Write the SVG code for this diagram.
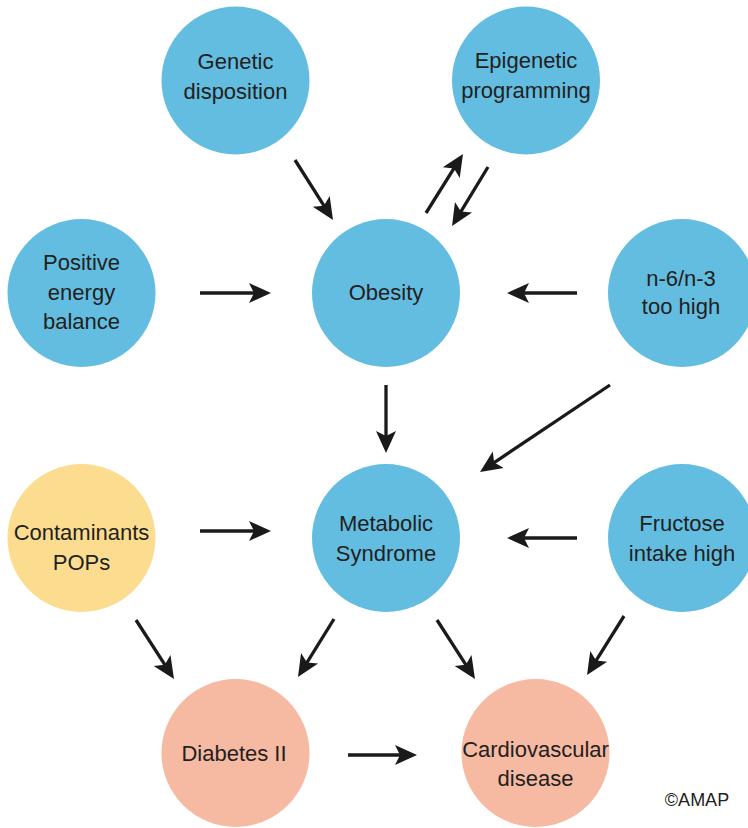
<svg xmlns="http://www.w3.org/2000/svg" width="748" height="828" viewBox="0 0 748 828">
<style>
.blue{fill:#62BDE0}
.yellow{fill:#FCDD8F}
.salmon{fill:#F6B9A2}
text{font-family:"Liberation Sans",Arial,sans-serif;font-size:22px;fill:#231F20;text-anchor:middle}
.conn line{stroke:#1a1a1a;stroke-width:3.3;marker-end:url(#ah)}
</style>
<defs>
<marker id="ah" markerUnits="userSpaceOnUse" viewBox="0 -11 23 22" refX="10" refY="0" markerWidth="23" markerHeight="22" orient="auto">
<path d="M0,-10 L22,0 L0,10 L5,0 Z" fill="#1a1a1a"/>
</marker>
</defs>
<rect width="748" height="828" fill="#fff"/>
<g id="genetic"><circle class="blue" cx="235.5" cy="80.5" r="74"/><text x="235.5" y="69">Genetic</text><text x="235.5" y="99">disposition</text></g>
<g id="epigenetic"><circle class="blue" cx="526" cy="80.5" r="74"/><text x="526" y="68">Epigenetic</text><text x="526" y="98">programming</text></g>
<g id="positive"><circle class="blue" cx="81.5" cy="293" r="74"/><text x="81.5" y="270">Positive</text><text x="81.5" y="299.5">energy</text><text x="81.5" y="329">balance</text></g>
<g id="obesity"><circle class="blue" cx="386" cy="293" r="74"/><text x="386" y="300">Obesity</text></g>
<g id="n6n3"><circle class="blue" cx="682" cy="293" r="74"/><text x="681" y="286">n-6/n-3</text><text x="681" y="314">too high</text></g>
<g id="contaminants"><circle class="yellow" cx="81.5" cy="538" r="74"/><text x="81.5" y="540">Contaminants</text><text x="81.5" y="570">POPs</text></g>
<g id="metabolic"><circle class="blue" cx="386" cy="538" r="74"/><text x="386" y="531">Metabolic</text><text x="386" y="561">Syndrome</text></g>
<g id="fructose"><circle class="blue" cx="682" cy="538" r="74"/><text x="682" y="531">Fructose</text><text x="682" y="561">intake high</text></g>
<g id="diabetes"><circle class="salmon" cx="235.5" cy="753" r="74"/><text x="234" y="761">Diabetes II</text></g>
<g id="cardio"><circle class="salmon" cx="535.5" cy="753" r="74"/><text x="535.5" y="757">Cardiovascular</text><text x="535.5" y="786">disease</text></g>
<text x="697" y="806" style="font-size:18px">©AMAP</text>
<g id="connectors" class="conn">
<line x1="295" y1="160" x2="326.6" y2="209.9"/>
<line x1="200" y1="293" x2="259" y2="293"/>
<line x1="426" y1="213" x2="456.6" y2="164.2"/>
<line x1="488" y1="167" x2="458.3" y2="215.8"/>
<line x1="577" y1="293" x2="519" y2="293"/>
<line x1="610" y1="385" x2="490" y2="465.3"/>
<line x1="386" y1="385" x2="386" y2="441"/>
<line x1="200" y1="531" x2="259" y2="531"/>
<line x1="577" y1="538" x2="519" y2="538"/>
<line x1="136" y1="620" x2="167.5" y2="668.9"/>
<line x1="334" y1="619" x2="304.3" y2="666.8"/>
<line x1="437" y1="620" x2="468.5" y2="668.9"/>
<line x1="624" y1="616" x2="593.4" y2="664.8"/>
<line x1="348" y1="755" x2="405" y2="755"/>
</g>
</svg>
